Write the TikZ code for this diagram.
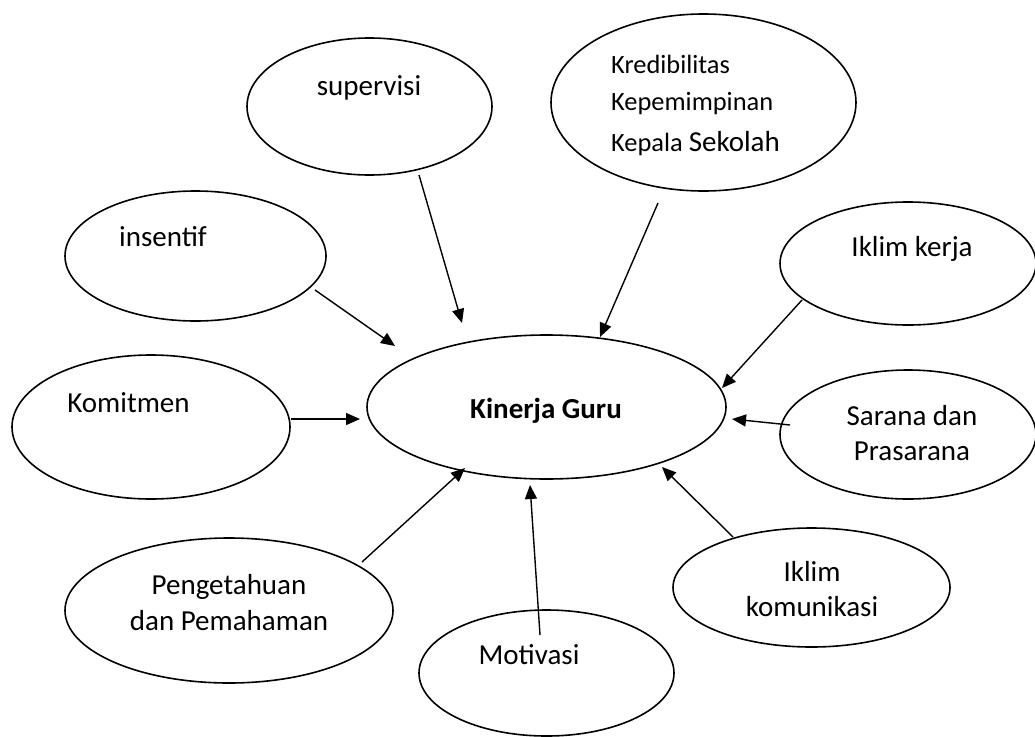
\documentclass[tikz,border=0pt]{standalone}
\usepackage{fontspec}
\setmainfont{Carlito}
\usetikzlibrary{shapes.geometric,arrows.meta}
\begin{document}
\begin{tikzpicture}[x=1pt,y=-1pt,
 oval/.style={draw,ellipse,line width=1.6pt,inner sep=0pt},
 lbl/.style={anchor=base,inner sep=0pt,font=\fontsize{29pt}{35pt}\selectfont},
 lbls/.style={anchor=base west,inner sep=0pt,font=\fontsize{26.4pt}{32pt}\selectfont},
 arr/.style={line width=1.4pt,-{Triangle[length=14pt,width=12pt]}}]
\useasboundingbox (0,0) rectangle (1035,736);
% ellipses
\node[oval,minimum width=245pt,minimum height=137pt] (sup) at (369.5,106.5) {};
\node[oval,minimum width=305pt,minimum height=177pt] (kred) at (703.5,102.5) {};
\node[oval,minimum width=261pt,minimum height=130pt] (ins) at (195.5,256) {};
\node[oval,minimum width=256pt,minimum height=123pt] (ikk) at (908,263.5) {};
\node[oval,minimum width=278pt,minimum height=144pt] (kom) at (151,427) {};
\node[oval,minimum width=359pt,minimum height=144pt] (kin) at (546.5,407) {};
\node[oval,minimum width=256pt,minimum height=129pt] (sar) at (908,434.5) {};
\node[oval,minimum width=277pt,minimum height=119pt] (ikm) at (811.5,587.5) {};
\node[oval,minimum width=328pt,minimum height=145pt] (pen) at (229,610.5) {};
\node[oval,minimum width=255pt,minimum height=126pt] (mot) at (546.5,673) {};
% texts
\node[lbl] (supT) at (369,95) {supervisi};
\node[lbl] (insT) at (163,246) {insentif};
\node[lbl] (komT) at (128.5,412) {Komitmen};
\node[lbl,font=\bfseries\fontsize{29pt}{35pt}\selectfont] (kinT) at (546,418) {Kinerja Guru};
\node[lbls] (kr1) at (611,73) {Kredibilitas};
\node[lbls] (kr2) at (611,110) {Kepemimpinan};
\node[lbls] (kr3) at (611,151) {Kepala {\fontsize{29pt}{35pt}\selectfont Sekolah}};
\node[lbl] (ikkT) at (912,256) {Iklim kerja};
\node[lbl] (sar1) at (912,425) {Sarana dan};
\node[lbl] (sar2) at (912,460) {Prasarana};
\node[lbl] (ikm1) at (812,581) {Iklim};
\node[lbl] (ikm2) at (812,616) {komunikasi};
\node[lbl] (pen1) at (229,594) {Pengetahuan};
\node[lbl] (pen2) at (229,630) {dan Pemahaman};
\node[lbl] (motT) at (529,664) {Motivasi};
% connector end points
\coordinate (supA) at (419,175);  \coordinate (supB) at (462,323);
\coordinate (kreA) at (658,203);  \coordinate (kreB) at (600,337);
\coordinate (insA) at (315,290);  \coordinate (insB) at (395,346);
\coordinate (ikkA) at (802,300);  \coordinate (ikkB) at (722,388);
\coordinate (komA) at (291,419);  \coordinate (komB) at (360,419);
\coordinate (sarA) at (790,425);  \coordinate (sarB) at (732,419);
\coordinate (penA) at (362,562);  \coordinate (penB) at (465,468);
\coordinate (motA) at (540,635);  \coordinate (motB) at (530,485);
\coordinate (ikmA) at (733,537);  \coordinate (ikmB) at (662,467);
% arrows
\draw[arr] (supA) -- (supB);
\draw[arr] (kreA) -- (kreB);
\draw[arr] (insA) -- (insB);
\draw[arr] (ikkA) -- (ikkB);
\draw[arr] (komA) -- (komB);
\draw[arr] (sarA) -- (sarB);
\draw[arr] (penA) -- (penB);
\draw[arr] (motA) -- (motB);
\draw[arr] (ikmA) -- (ikmB);
\end{tikzpicture}
\end{document}
